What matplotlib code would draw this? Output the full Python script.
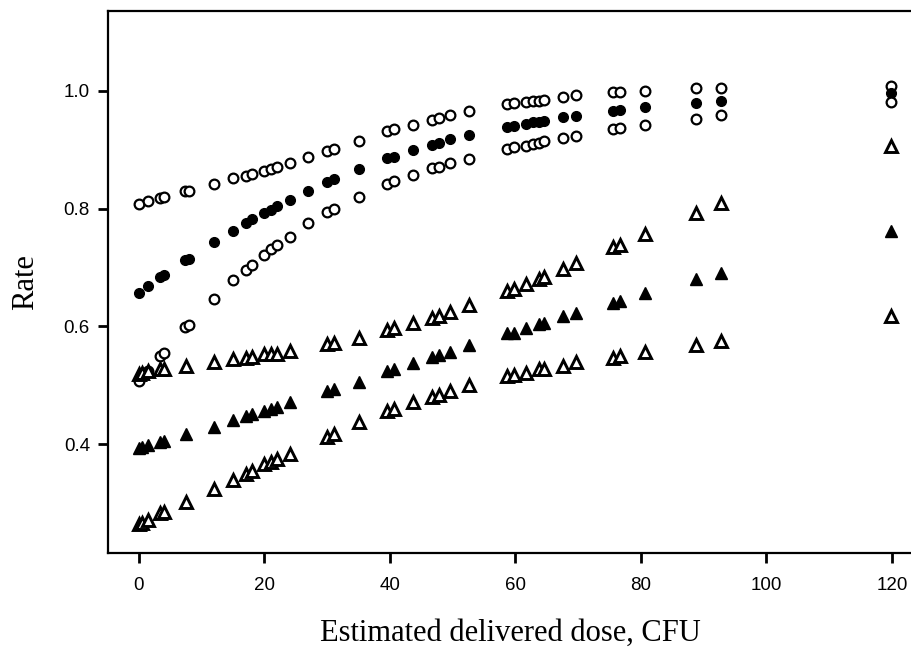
import matplotlib
matplotlib.use('Agg')
import matplotlib.pyplot as plt

# doses (CFU) for the circle series and the triangle series
dose_circ = [0, 1.5, 3.3, 4, 7.4, 8, 12, 15, 17, 18, 20, 21, 22, 24, 27, 30, 31, 35,
             39.6, 40.7, 43.7, 46.7, 47.8, 49.6, 52.6, 58.6, 59.7, 61.7, 62.8, 63.7,
             64.6, 67.6, 69.6, 75.6, 76.7, 80.6, 88.8, 92.7, 119.8]
dose_tri = [0, 0.4, 1.5, 3.3, 4, 7.5, 12, 15, 17, 18, 20, 21, 22, 24, 30, 31, 35,
            39.6, 40.7, 43.7, 46.7, 47.8, 49.6, 52.6, 58.6, 59.7, 61.7, 63.7, 64.6,
            67.6, 69.6, 75.6, 76.7, 80.6, 88.8, 92.7, 119.8]

circ_upper = [0.807, 0.812, 0.818, 0.819, 0.829, 0.830, 0.842, 0.851, 0.855, 0.859,
              0.864, 0.867, 0.871, 0.877, 0.888, 0.897, 0.901, 0.914, 0.931, 0.935,
              0.942, 0.950, 0.953, 0.958, 0.965, 0.977, 0.979, 0.981, 0.982, 0.983,
              0.984, 0.989, 0.992, 0.997, 0.998, 1.000, 1.004, 1.005, 1.008]
circ_mid = [0.656, 0.668, 0.683, 0.688, 0.713, 0.715, 0.744, 0.762, 0.775, 0.782,
            0.793, 0.798, 0.805, 0.815, 0.830, 0.845, 0.850, 0.867, 0.886, 0.888,
            0.900, 0.908, 0.911, 0.918, 0.924, 0.938, 0.940, 0.943, 0.946, 0.947,
            0.949, 0.955, 0.957, 0.966, 0.967, 0.972, 0.979, 0.982, 0.996]
circ_lower = [0.507, 0.525, 0.549, 0.555, 0.599, 0.602, 0.647, 0.679, 0.696, 0.705,
              0.722, 0.731, 0.738, 0.752, 0.775, 0.794, 0.799, 0.820, 0.842, 0.846,
              0.857, 0.868, 0.871, 0.877, 0.884, 0.901, 0.904, 0.906, 0.909, 0.912,
              0.915, 0.920, 0.923, 0.935, 0.937, 0.942, 0.952, 0.958, 0.981]

tri_upper = [0.520, 0.521, 0.524, 0.527, 0.528, 0.533, 0.540, 0.544, 0.547, 0.548,
             0.553, 0.554, 0.554, 0.558, 0.570, 0.572, 0.581, 0.594, 0.597, 0.606,
             0.615, 0.618, 0.625, 0.636, 0.660, 0.664, 0.672, 0.681, 0.684, 0.698,
             0.707, 0.734, 0.738, 0.756, 0.792, 0.809, 0.906]
tri_mid = [0.393, 0.395, 0.398, 0.404, 0.405, 0.417, 0.430, 0.442, 0.448, 0.451,
           0.457, 0.460, 0.463, 0.472, 0.490, 0.493, 0.506, 0.525, 0.528, 0.538,
           0.548, 0.551, 0.557, 0.568, 0.588, 0.589, 0.598, 0.604, 0.606, 0.617,
           0.622, 0.640, 0.643, 0.656, 0.680, 0.691, 0.762]
tri_lower = [0.265, 0.267, 0.272, 0.283, 0.285, 0.302, 0.324, 0.340, 0.350, 0.355,
             0.366, 0.370, 0.375, 0.384, 0.412, 0.417, 0.437, 0.456, 0.459, 0.472,
             0.481, 0.484, 0.491, 0.500, 0.515, 0.517, 0.521, 0.527, 0.528, 0.533,
             0.539, 0.547, 0.550, 0.556, 0.568, 0.575, 0.617]

x_ticks = [0, 20, 40, 60, 80, 100, 120]
y_ticks = [0.4, 0.6, 0.8, 1.0]

plt.rcParams['font.family'] = ['Liberation Sans', 'DejaVu Sans']

fig = plt.figure(figsize=(9.11, 6.67), dpi=100)
ax = fig.add_axes([108 / 911, 114 / 667, 805 / 911, 542 / 667])

open_c = dict(ls='none', marker='o', ms=7, mfc='white', mec='black', mew=1.6)
fill_c = dict(ls='none', marker='o', ms=7, mfc='black', mec='black', mew=1.0)
open_t = dict(ls='none', marker='^', ms=8, mfc='white', mec='black', mew=2.1)
fill_t = dict(ls='none', marker='^', ms=9, mfc='black', mec='black', mew=1.0)

ax.plot(dose_circ, circ_upper, **open_c)
ax.plot(dose_circ, circ_mid, **fill_c)
ax.plot(dose_circ, circ_lower, **open_c)
ax.plot(dose_tri, tri_upper, **open_t)
ax.plot(dose_tri, tri_mid, **fill_t)
ax.plot(dose_tri, tri_lower, **open_t)

ax.set_xlim(-4.94, 123.35)
ax.set_ylim(0.2155, 1.1352)
ax.set_xticks(x_ticks)
ax.set_yticks(y_ticks)
ax.set_yticklabels([f'{v:.1f}' for v in y_ticks])

for s in ['left', 'bottom', 'top']:
    ax.spines[s].set_linewidth(1.6)
ax.spines['right'].set_visible(False)
ax.tick_params(axis='both', direction='out', length=7, width=2, labelsize=13.5)
ax.tick_params(axis='x', pad=10)
ax.tick_params(axis='y', pad=6)

ax.set_xlabel('Estimated delivered dose, CFU', family='Liberation Serif', fontsize=22, labelpad=18)
ax.set_ylabel('Rate', family='Liberation Serif', fontsize=22, labelpad=17)

fig.savefig('out.png', dpi=100)
